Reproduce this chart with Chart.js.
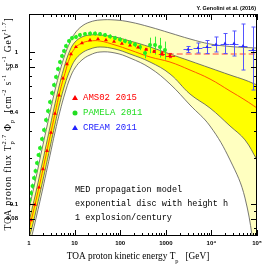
<!DOCTYPE html>
<html>
<head>
<meta charset="utf-8">
<script src="https://cdn.jsdelivr.net/npm/chart.js@4.4.0/dist/chart.umd.min.js"></script>
<style>
  html, body { margin: 0; padding: 0; background: #fff; }
</style>
</head>
<body>
<canvas id="myChart" width="271" height="271"></canvas>
<script>
// axis ticks
const xTickValues = [1, 10, 100, 1000, 10000, 100000];
const xTickLabels = ["1", "10", "100", "1000", "10⁴", "10⁵"];
const yTickValues = [0.08, 0.1, 0.4, 0.8, 1];
const yTickLabels = ["0.08", "0.1", "0.4", "0.8", "1"];

// model bands (MED, exponential disc, 1 explosion/century)
const bandEnergy = [1, 1.22, 1.5, 1.83, 2.24, 2.89, 3.72, 4.79, 6.16, 7.93, 10.2, 14.5, 21.8, 36.1, 76.9, 164, 451, 1236, 3394, 9311, 25590, 54580, 100000];
const outerUpper = [0.092, 0.121, 0.16, 0.213, 0.282, 0.40, 0.562, 0.752, 0.962, 1.158, 1.33, 1.48, 1.575, 1.624, 1.624, 1.575, 1.460, 1.334, 1.218, 1.129, 1.087, 1.071, 1.062];
const innerUpper = [0.0765, 0.0985, 0.129, 0.170, 0.225, 0.321, 0.457, 0.630, 0.830, 1.028, 1.162, 1.255, 1.294, 1.294, 1.255, 1.181, 1.079, 0.970, 0.873, 0.785, 0.706, 0.654, 0.607];
const medianFlux = [0.068, 0.087, 0.113, 0.147, 0.195, 0.277, 0.394, 0.552, 0.725, 0.925, 1.06, 1.146, 1.181, 1.181, 1.112, 1.031, 0.927, 0.859, 0.761, 0.664, 0.554, 0.483, 0.428];
const innerLower = [0.0595, 0.0740, 0.0965, 0.1255, 0.165, 0.235, 0.334, 0.467, 0.614, 0.760, 0.885, 0.985, 1.046, 1.079, 1.046, 0.970, 0.859, 0.717, 0.529, 0.428, 0.326, 0.264, 0.195];
const outerLower = [0.0525, 0.0660, 0.0860, 0.1115, 0.147, 0.209, 0.297, 0.408, 0.537, 0.674, 0.785, 0.886, 0.956, 1.0, 0.985, 0.913, 0.785, 0.616, 0.448, 0.326, 0.195, 0.1095, 0.0368];

// AMS02 high energy level (dashed)
const amsLevelEnergy = [1100, 100000];
const amsLevelFlux = [0.97, 0.97];

// AMS02 2015
const amsEnergy = [1.106, 1.354, 1.657, 2.028, 2.482, 3.038, 3.72, 4.55, 5.57, 6.81, 8.34, 10.7, 14.5, 21.8, 32.6, 48.8, 73.1, 109, 164, 246, 368, 551, 826, 1236];
const amsFlux = [0.0785, 0.0990, 0.1285, 0.1695, 0.2235, 0.2945, 0.394, 0.518, 0.672, 0.832, 0.970, 1.079, 1.146, 1.199, 1.218, 1.199, 1.172, 1.137, 1.104, 1.071, 1.039, 1.008, 0.977, 0.948];
const amsErr = [0, 0, 0, 0, 0, 0, 0, 0, 0, 0, 0, 0, 0, 0, 0, 0, 0, 0, 0, 0, 0.01, 0.015, 0.025, 0.03];
const amsBinLow = [null, null, null, null, null, null, null, null, null, null, null, null, null, null, null, null, null, null, null, null, null, null, 700, 1000];
const amsBinHigh = [null, null, null, null, null, null, null, null, null, null, null, null, null, null, null, null, null, null, null, null, null, null, 960, 1600];

// PAMELA 2011
const pamEnergy = [1.026, 1.106, 1.193, 1.287, 1.388, 1.497, 1.616, 1.743, 1.928, 2.133, 2.36, 2.61, 2.887, 3.194, 3.533, 3.91, 4.325, 4.786, 5.294, 5.855, 6.47, 7.53, 8.77, 10.7, 13.1, 16.9, 21.8, 28.0, 36.1, 46.4, 59.7, 76.9, 99.0, 127, 164, 211, 272, 350, 451, 580, 746, 960];
const pamFlux = [0.1063, 0.1181, 0.1313, 0.1483, 0.1648, 0.1862, 0.2101, 0.2336, 0.2677, 0.3069, 0.357, 0.409, 0.469, 0.537, 0.607, 0.685, 0.773, 0.859, 0.941, 1.015, 1.095, 1.181, 1.236, 1.255, 1.294, 1.313, 1.323, 1.323, 1.313, 1.294, 1.265, 1.236, 1.208, 1.181, 1.155, 1.12, 1.079, 0.985, 1.112, 1.112, 1.079, 1.031];
const pamErr = [0.004, 0.005, 0.005, 0.006, 0.006, 0.007, 0.008, 0.009, 0.01, 0.012, 0.014, 0.016, 0.018, 0.02, 0.022, 0.025, 0.028, 0.03, 0.033, 0.035, 0.038, 0.04, 0.04, 0.04, 0.04, 0.04, 0.04, 0.04, 0.04, 0.04, 0.04, 0.04, 0.04, 0.04, 0.04, 0.045, 0.05, 0.075, 0.13, 0.15, 0.16, 0.14];

// CREAM 2011
const creamEnergy = [3069, 5083, 8017, 12620, 19870, 31330, 49320, 81700];
const creamFlux = [1.039, 1.062, 1.079, 1.120, 1.137, 1.137, 1.095, 1.031];
const creamLow = [0.992, 0.985, 0.977, 1.0, 0.977, 0.941, 0.761, 0.562];
const creamHigh = [1.087, 1.146, 1.190, 1.255, 1.323, 1.375, 1.528, 1.460];
const creamBinLow = [2450, 4050, 6400, 10100, 15900, 25000, 39400, 65300];
const creamBinHigh = [3840, 6350, 10000, 15800, 24800, 39200, 61700, 100000];

function pts(xs, ys) {
  return xs.map((x, i) => ({ x: x, y: ys[i] }));
}

// minor tick positions for the log axes
const xMinorTicks = [];
for (let d = 1; d < 100000; d *= 10) {
  for (let n = 1; n < 10; n++) xMinorTicks.push(n * d);
}
xMinorTicks.push(100000);
const yMinorTicks = [0.07, 0.08, 0.09, 0.1, 0.2, 0.3, 0.4, 0.5, 0.6, 0.7, 0.8, 0.9, 1];

// draws a string with sub/superscripts: [text, shift(-1 sub, 1 sup), advance?]
function drawRich(c, parts, x, y, size, family, align) {
  const widths = parts.map(p => {
    c.font = (p[1] ? size * 0.68 : size) + "px " + family;
    return p[2] === false ? 0 : c.measureText(p[0]).width;
  });
  const total = widths.reduce((a, b) => a + b, 0);
  let cx = align === "center" ? x - total / 2 : x;
  c.textAlign = "left";
  c.textBaseline = "middle";
  parts.forEach((p, i) => {
    c.font = (p[1] ? size * 0.68 : size) + "px " + family;
    c.fillText(p[0], cx, y - p[1] * size * 0.42);
    cx += widths[i];
  });
}

const errorBars = {
  id: "errorBars",
  beforeDatasetDraw(chart, args) {
    const ds = chart.data.datasets[args.index];
    if (!ds.yLow && !ds.xLow) return;
    const { ctx, chartArea: a, scales: { x, y } } = chart;
    ctx.save();
    ctx.beginPath();
    ctx.rect(a.left, a.top, a.width, a.height);
    ctx.clip();
    ctx.strokeStyle = ds.errorColor;
    ctx.lineWidth = 1;
    ds.data.forEach((p, i) => {
      const px = Math.round(x.getPixelForValue(p.x)) + 0.5;
      const py = Math.round(y.getPixelForValue(p.y)) + 0.5;
      ctx.beginPath();
      if (ds.yLow && ds.yLow[i] != null && ds.yLow[i] !== ds.yHigh[i]) {
        const y1 = y.getPixelForValue(ds.yLow[i]);
        const y2 = y.getPixelForValue(ds.yHigh[i]);
        ctx.moveTo(px, y1); ctx.lineTo(px, y2);
        if (ds.capWidth) {
          ctx.moveTo(px - ds.capWidth, y1); ctx.lineTo(px + ds.capWidth, y1);
          ctx.moveTo(px - ds.capWidth, y2); ctx.lineTo(px + ds.capWidth, y2);
        }
      }
      if (ds.xLow && ds.xLow[i] != null) {
        ctx.moveTo(x.getPixelForValue(ds.xLow[i]), py);
        ctx.lineTo(x.getPixelForValue(ds.xHigh[i]), py);
      }
      ctx.stroke();
    });
    ctx.restore();
  }
};

const frame = {
  id: "frame",
  afterDatasetsDraw(chart) {
    const { ctx, chartArea: a, scales: { x, y } } = chart;
    ctx.save();
    ctx.strokeStyle = "#000";
    ctx.lineWidth = 1;
    ctx.strokeRect(a.left + 0.5, a.top + 0.5, a.width - 1, a.height - 1);
    ctx.beginPath();
    xMinorTicks.forEach(v => {
      const px = Math.round(x.getPixelForValue(v)) + 0.5;
      const len = xTickValues.includes(v) ? 6 : 3;
      ctx.moveTo(px, a.bottom); ctx.lineTo(px, a.bottom - len);
      ctx.moveTo(px, a.top); ctx.lineTo(px, a.top + len);
    });
    yMinorTicks.forEach(v => {
      const py = Math.round(y.getPixelForValue(v)) + 0.5;
      const len = yTickValues.includes(v) ? 6 : 3;
      ctx.moveTo(a.left, py); ctx.lineTo(a.left + len, py);
      ctx.moveTo(a.right, py); ctx.lineTo(a.right - len, py);
    });
    ctx.stroke();
    ctx.restore();
  }
};

const texts = {
  id: "texts",
  afterDraw(chart) {
    const c = chart.ctx;
    c.save();
    c.fillStyle = "#000";
    c.font = "bold 5.5px 'Liberation Sans'";
    c.textAlign = "right";
    c.textBaseline = "middle";
    c.fillText("Y. Genolini et al. (2016)", 256, 8);

    // legend
    const legend = [
      ["AMS02 2015", "#ff0000", "triangle", 98],
      ["PAMELA 2011", "#22dd22", "circle", 113],
      ["CREAM 2011", "#2222ff", "triangle", 128]
    ];
    legend.forEach(([label, color, shape, ly]) => {
      c.fillStyle = color;
      c.beginPath();
      if (shape === "circle") {
        c.arc(75, ly, 2.5, 0, Math.PI * 2);
      } else {
        c.moveTo(75, ly - 3); c.lineTo(78, ly + 2); c.lineTo(72, ly + 2); c.closePath();
      }
      c.fill();
      c.font = "9px 'Liberation Mono'";
      c.textAlign = "left";
      c.fillText(label, 83, ly);
    });

    c.fillStyle = "#000";
    c.font = "8.5px 'Liberation Mono'";
    c.fillText("MED propagation model", 75, 190);
    c.fillText("exponential disc with height h", 75, 204);
    c.fillText("1 explosion/century", 75, 218);

    drawRich(c, [["TOA proton kinetic energy T", 0], ["p", -1], ["   [GeV]", 0]], 138, 257, 9.3, "'Liberation Serif'", "center");

    c.translate(8, 124);
    c.rotate(-Math.PI / 2);
    c.letterSpacing = "0.8px";
    drawRich(c, [["TOA proton flux T", 0], ["p", -1, false], ["2.7", 1], [" Φ", 0], ["p", -1], ["  [cm", 0], ["-2", 1], [" s", 0], ["-1", 1], [" sr", 0], ["-1", 1], [" GeV", 0], ["1.7", 1], ["]", 0]], 0, 0, 9.5, "'Liberation Serif'", "center");
    c.restore();
  }
};

const bandLine = { borderColor: "#555", borderWidth: 0.8, pointRadius: 0, tension: 0.4 };

new Chart("myChart", {
  type: "line",
  data: {
    datasets: [
      { label: "outer upper", data: pts(bandEnergy, outerUpper), fill: 4, backgroundColor: "#ffffc0", order: 8, ...bandLine },
      { label: "inner upper", data: pts(bandEnergy, innerUpper), fill: 3, backgroundColor: "#ffff00", order: 6, ...bandLine },
      { label: "median", data: pts(bandEnergy, medianFlux), fill: false, borderColor: "#ff5a00", borderWidth: 1, pointRadius: 0, tension: 0.4, order: 4 },
      { label: "inner lower", data: pts(bandEnergy, innerLower), fill: false, order: 5, ...bandLine },
      { label: "outer lower", data: pts(bandEnergy, outerLower), fill: false, order: 7, ...bandLine },
      { label: "AMS02 level", data: pts(amsLevelEnergy, amsLevelFlux), fill: false, borderColor: "#ff4040", borderWidth: 1, borderDash: [6, 3], pointRadius: 0, order: 3 },
      {
        label: "PAMELA 2011", data: pts(pamEnergy, pamFlux), showLine: false, pointStyle: "circle", pointRadius: 2,
        backgroundColor: "#22ee22", borderColor: "#22ee22", borderWidth: 0, order: 2,
        yLow: pamFlux.map((v, i) => v - pamErr[i]), yHigh: pamFlux.map((v, i) => v + pamErr[i]), errorColor: "#33ee33"
      },
      {
        label: "AMS02 2015", data: pts(amsEnergy, amsFlux), showLine: false, pointStyle: "triangle", pointRadius: 2.3,
        backgroundColor: "#ff0000", borderColor: "#ff0000", borderWidth: 0, order: 1,
        yLow: amsFlux.map((v, i) => v - amsErr[i]), yHigh: amsFlux.map((v, i) => v + amsErr[i]),
        xLow: amsBinLow, xHigh: amsBinHigh, errorColor: "#ff2020", capWidth: 1.5
      },
      {
        label: "CREAM 2011", data: pts(creamEnergy, creamFlux), showLine: false, pointStyle: "triangle", pointRadius: 2,
        backgroundColor: "#2222ff", borderColor: "#2222ff", borderWidth: 0, order: 0,
        yLow: creamLow, yHigh: creamHigh, xLow: creamBinLow, xHigh: creamBinHigh, errorColor: "#5555ff", capWidth: 2
      }
    ]
  },
  options: {
    responsive: false,
    animation: false,
    devicePixelRatio: 1,
    layout: { padding: { top: 14, right: 14, left: 0, bottom: 0 } },
    plugins: { legend: { display: false }, tooltip: { enabled: false } },
    elements: { line: { capBezierPoints: true } },
    scales: {
      x: {
        type: "logarithmic",
        min: 1,
        max: 100000,
        grid: { display: false },
        border: { display: false },
        afterBuildTicks: (scale) => { scale.ticks = xTickValues.map(v => ({ value: v })); },
        afterFit: (scale) => { scale.height = 35; scale.paddingLeft = 0; scale.paddingRight = 0; },
        ticks: {
          autoSkip: false, maxRotation: 0, padding: -4, color: "#000",
          font: { size: 6, weight: "bold", family: "'Liberation Sans'" },
          callback: (v, i) => xTickLabels[i]
        }
      },
      y: {
        type: "logarithmic",
        min: 0.0616,
        max: 1.778,
        grid: { display: false },
        border: { display: false },
        afterBuildTicks: (scale) => { scale.ticks = yTickValues.map(v => ({ value: v })); },
        afterFit: (scale) => { scale.width = 29; scale.paddingTop = 0; scale.paddingBottom = 0; },
        ticks: {
          autoSkip: false, padding: 3, color: "#000",
          font: { size: 6, weight: "bold", family: "'Liberation Sans'" },
          callback: (v, i) => yTickLabels[i]
        }
      }
    }
  },
  plugins: [errorBars, frame, texts]
});
</script>
</body>
</html>
